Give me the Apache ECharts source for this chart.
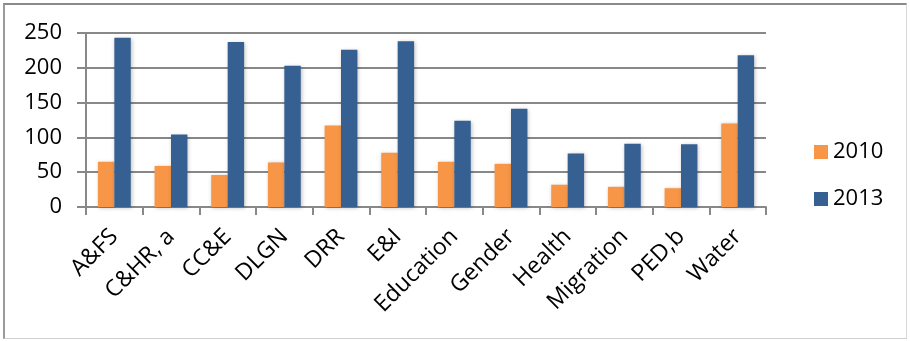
<!DOCTYPE html>
<html>
<head>
<meta charset="utf-8">
<script src="https://cdn.jsdelivr.net/npm/echarts@6/dist/echarts.min.js"></script>
<style>
  html, body { margin: 0; padding: 0; background: #fff; }
  #frame { position: absolute; left: 3px; top: 3px; width: 904px; height: 336px;
           border-top: 2px solid #8a8a8a; border-left: 2px solid #9a9a9a;
           border-right: 1px solid #d8d8d8; border-bottom: 1px solid #d0d0d0; box-sizing: border-box; }
  #chart { position: absolute; left: 0; top: 0; width: 910px; height: 341px; }
</style>
</head>
<body>
<div id="frame"></div>
<div id="chart"></div>
<script>
// Themes and counts for the two survey years
const categories = ['A&FS', 'C&HR, a', 'CC&E', 'DLGN', 'DRR', 'E&I', 'Education', 'Gender', 'Health', 'Migration', 'PED,b', 'Water'];
const values2010 = [65, 59, 46, 64, 117, 78, 65, 62, 32, 29, 27, 120];
const values2013 = [243, 104, 237, 203, 226, 238, 124, 141, 77, 91, 90, 218];
const yTicks = [0, 50, 100, 150, 200, 250];

const font = '"Open Sans", sans-serif';
const chart = echarts.init(document.getElementById('chart'), null, { renderer: 'canvas' });

const barShadow = { shadowColor: 'rgba(0,0,0,0.25)', shadowBlur: 4, shadowOffsetX: 1, shadowOffsetY: 1 };

chart.setOption({
  animation: false,
  grid: { left: 86, right: 144, top: 33, bottom: 134, containLabel: false },
  legend: {
    orient: 'vertical',
    left: 809, top: 136,
    itemWidth: 14, itemHeight: 14, itemGap: 25,
    icon: 'rect',
    textStyle: { fontFamily: font, fontSize: 22, color: '#000', padding: [0, 0, 0, 0] },
    data: ['2010', '2013']
  },
  xAxis: {
    type: 'category',
    data: categories,
    boundaryGap: true,
    axisLine: { lineStyle: { color: '#888', width: 2 } },
    axisTick: { show: true, length: 8, lineStyle: { color: '#888', width: 2 } },
    axisLabel: { rotate: 45, fontFamily: font, fontSize: 23, color: '#000', margin: 26, interval: 0 }
  },
  yAxis: {
    type: 'value',
    min: yTicks[0], max: yTicks[yTicks.length - 1], interval: 50,
    axisLine: { show: true, lineStyle: { color: '#888', width: 2 } },
    axisTick: { show: true, length: 9, lineStyle: { color: '#888', width: 2 } },
    splitLine: { lineStyle: { color: '#888', width: 2 } },
    axisLabel: { fontFamily: font, fontSize: 22, color: '#000', margin: 24 }
  },
  series: [
    { name: '2010', type: 'bar', data: values2010, barGap: '0%', barCategoryGap: '42%',
      itemStyle: Object.assign({ color: '#F79646' }, barShadow) },
    { name: '2013', type: 'bar', data: values2013, barGap: '0%', barCategoryGap: '42%',
      itemStyle: Object.assign({ color: '#366092' }, barShadow) }
  ]
});
</script>
</body>
</html>
